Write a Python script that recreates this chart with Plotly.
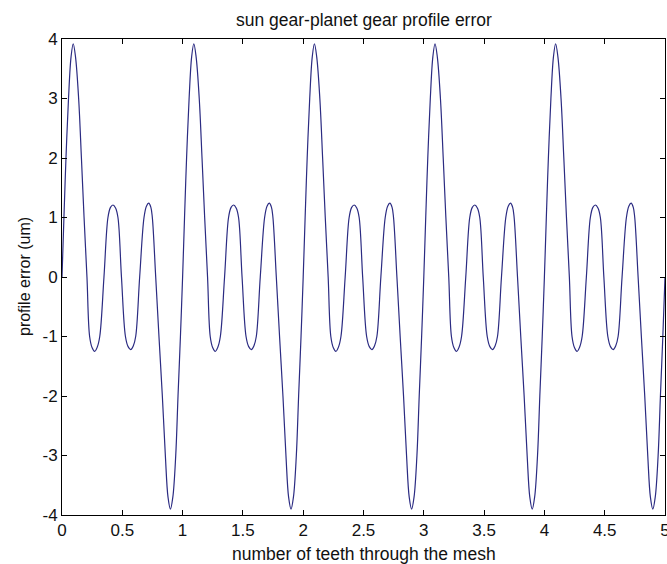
import plotly.graph_objects as go

# Mesh cycles shown (one tooth each) and the readings of one cycle
teeth = [0, 1, 2, 3, 4]
cycle_offset = [0.000, 0.016, 0.033, 0.054, 0.075, 0.093, 0.112, 0.138, 0.161, 0.183,
                0.207, 0.229, 0.250, 0.271, 0.292, 0.313, 0.348, 0.381, 0.402, 0.423,
                0.444, 0.464, 0.493, 0.526, 0.548, 0.570, 0.591, 0.611, 0.644, 0.680,
                0.700, 0.719, 0.737, 0.749, 0.777, 0.804, 0.832, 0.857, 0.879, 0.899,
                0.919, 0.943, 0.962, 0.982]
cycle_error = [0.0, 1.0, 2.0, 3.0, 3.7, 3.92, 3.7, 3.0, 2.0, 1.0,
               0.0, -1.0, -1.19, -1.25, -1.18, -1.0, 0.0, 1.0, 1.17, 1.21,
               1.16, 1.0, 0.0, -1.0, -1.17, -1.22, -1.16, -1.0, 0.0, 1.0,
               1.19, 1.24, 1.17, 1.0, 0.0, -1.0, -2.0, -3.0, -3.7, -3.9,
               -3.7, -3.0, -2.0, -1.0]
end_x = 5.0
end_y = 0.0

x_ticks = [0, 0.5, 1, 1.5, 2, 2.5, 3, 3.5, 4, 4.5, 5]
x_tick_text = ["0", "0.5", "1", "1.5", "2", "2.5", "3", "3.5", "4", "4.5", "5"]
y_ticks = [-4, -3, -2, -1, 0, 1, 2, 3, 4]
y_tick_text = ["-4", "-3", "-2", "-1", "0", "1", "2", "3", "4"]

xs, ys = [], []
for t in teeth:
    for o, v in zip(cycle_offset, cycle_error):
        xs.append(t + o)
        ys.append(v)
xs.append(end_x)
ys.append(end_y)

FONT = "Liberation Sans, Arial, sans-serif"

fig = go.Figure()
fig.add_trace(go.Scatter(x=xs, y=ys, mode="lines",
                         line=dict(color="#2b2b82", width=1.2, shape="spline", smoothing=1.0),
                         showlegend=False, hoverinfo="skip"))

axis_common = dict(showline=True, linecolor="black", linewidth=1, mirror="ticks",
                   ticks="inside", ticklen=5, tickwidth=1, tickcolor="black",
                   showgrid=False, zeroline=False, automargin=False,
                   tickfont=dict(family=FONT, size=17, color="#111111"))

fig.update_xaxes(range=[0, 5], tickvals=x_ticks, ticktext=x_tick_text,
                 ticklabeloverflow="allow", **axis_common)
fig.update_yaxes(range=[-4, 4], tickvals=y_ticks, ticktext=y_tick_text, **axis_common)

fig.update_layout(
    width=667, height=564,
    margin=dict(l=62, r=2, t=39, b=49),
    paper_bgcolor="white", plot_bgcolor="white",
    annotations=[
        dict(text="sun gear-planet gear profile error", xref="paper", yref="paper",
             x=0.5, y=(515 - 20) / 476, xanchor="center", yanchor="middle",
             showarrow=False, font=dict(family=FONT, size=17.5, color="#111111")),
        dict(text="number of teeth through the mesh", xref="paper", yref="paper",
             x=0.5, y=(515 - 554) / 476, xanchor="center", yanchor="middle",
             showarrow=False, font=dict(family=FONT, size=17.5, color="#111111")),
        dict(text="profile error (um)", xref="paper", yref="paper",
             x=(24 - 62) / 603, y=0.5, xanchor="center", yanchor="middle", textangle=-90,
             showarrow=False, font=dict(family=FONT, size=16, color="#111111")),
    ],
)

fig.write_html("out.html")
